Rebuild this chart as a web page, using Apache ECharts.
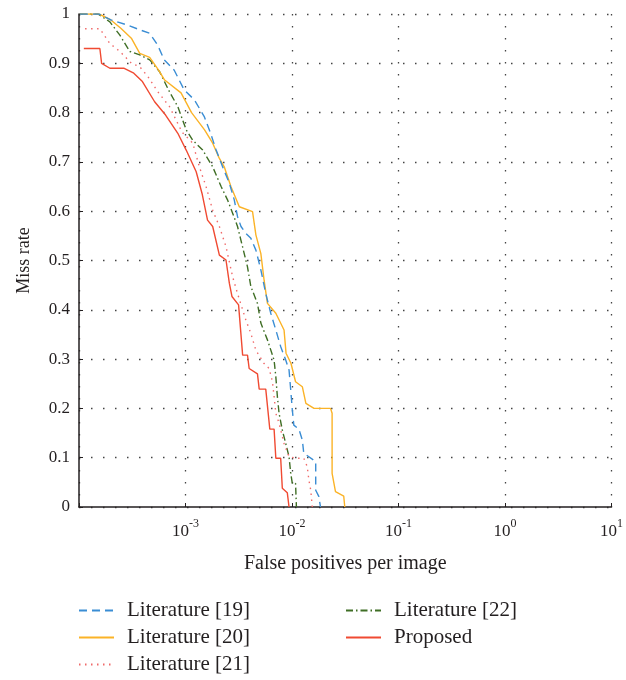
<!DOCTYPE html>
<html>
<head>
<meta charset="utf-8">
<script src="https://cdn.jsdelivr.net/npm/echarts@6/dist/echarts.min.js"></script>
<style>html,body{margin:0;padding:0;background:#fff;}#c{width:626px;height:680px;}</style>
</head>
<body>
<div id="c"></div>
<script>
var seriesNames = ['Literature [19]', 'Literature [20]', 'Literature [21]', 'Literature [22]', 'Proposed'];
var xTickExponents = [-4, -3, -2, -1, 0, 1];
var yTickLabels = ['0', '0.1', '0.2', '0.3', '0.4', '0.5', '0.6', '0.7', '0.8', '0.9', '1'];

var lit19Fppi = [1.02e-4, 1.54e-4, 1.99e-4, 2.81e-4, 3.72e-4, 4.61e-4, 5.47e-4, 6.32e-4, 7.84e-4, 9.72e-4, 1.21e-3, 1.50e-3, 1.72e-3, 1.94e-3, 2.23e-3, 2.58e-3, 2.87e-3, 3.08e-3, 3.32e-3, 3.69e-3, 4.11e-3, 4.58e-3, 5.10e-3, 5.67e-3, 6.32e-3, 7.05e-3, 7.84e-3, 8.73e-3, 9.38e-3, 9.73e-3, 1.007e-2, 1.04e-2, 1.16e-2, 1.25e-2, 1.29e-2, 1.44e-2, 1.67e-2, 1.67e-2, 1.79e-2, 1.85e-2];
var lit19Miss = [1.0, 1.0, 0.988, 0.978, 0.968, 0.961, 0.937, 0.907, 0.886, 0.846, 0.826, 0.792, 0.758, 0.724, 0.69, 0.657, 0.623, 0.589, 0.569, 0.555, 0.545, 0.521, 0.481, 0.433, 0.393, 0.359, 0.325, 0.298, 0.278, 0.237, 0.197, 0.166, 0.158, 0.136, 0.109, 0.102, 0.092, 0.034, 0.021, 0.0];

var lit20Fppi = [1.02e-4, 1.54e-4, 1.99e-4, 2.47e-4, 3.10e-4, 3.72e-4, 4.61e-4, 5.59e-4, 6.37e-4, 9.08e-4, 1.14e-3, 1.51e-3, 1.80e-3, 2.08e-3, 2.31e-3, 2.67e-3, 3.20e-3, 4.26e-3, 4.58e-3, 5.10e-3, 5.47e-3, 5.88e-3, 7.05e-3, 8.42e-3, 8.79e-3, 9.79e-3, 1.08e-2, 1.25e-2, 1.35e-2, 1.61e-2, 2.30e-2, 2.38e-2, 2.38e-2, 2.56e-2, 3.06e-2, 3.13e-2];
var lit20Miss = [1.0, 1.0, 0.988, 0.971, 0.951, 0.92, 0.912, 0.886, 0.866, 0.84, 0.8, 0.765, 0.738, 0.707, 0.69, 0.65, 0.609, 0.599, 0.552, 0.514, 0.46, 0.413, 0.393, 0.359, 0.312, 0.291, 0.254, 0.244, 0.21, 0.2, 0.2, 0.19, 0.068, 0.031, 0.022, 0.0];

var lit21Fppi = [1.14e-4, 1.57e-4, 1.95e-4, 2.42e-4, 3.11e-4, 3.72e-4, 4.44e-4, 5.51e-4, 7.08e-4, 9.3e-4, 1.17e-3, 1.35e-3, 1.56e-3, 1.80e-3, 2.08e-3, 2.40e-3, 2.77e-3, 3.08e-3, 3.69e-3, 4.11e-3, 4.58e-3, 5.47e-3, 6.10e-3, 6.55e-3, 6.79e-3, 7.05e-3, 7.56e-3, 8.42e-3, 9.38e-3, 1.08e-2, 1.29e-2, 1.39e-2, 1.44e-2, 1.50e-2, 1.55e-2];
var lit21Miss = [0.97, 0.97, 0.94, 0.924, 0.90, 0.893, 0.873, 0.842, 0.812, 0.76, 0.738, 0.69, 0.65, 0.602, 0.569, 0.528, 0.467, 0.433, 0.379, 0.352, 0.318, 0.291, 0.281, 0.254, 0.224, 0.19, 0.17, 0.129, 0.102, 0.099, 0.099, 0.082, 0.055, 0.034, 0.0];

var lit22Fppi = [1.02e-4, 1.51e-4, 1.95e-4, 2.42e-4, 3.0e-4, 3.72e-4, 4.61e-4, 5.71e-4, 7.08e-4, 8.47e-4, 1.015e-3, 1.17e-3, 1.45e-3, 1.80e-3, 2.16e-3, 2.48e-3, 2.77e-3, 3.08e-3, 3.43e-3, 3.82e-3, 4.11e-3, 4.74e-3, 5.10e-3, 5.88e-3, 6.79e-3, 7.05e-3, 7.29e-3, 7.56e-3, 8.11e-3, 8.73e-3, 9.38e-3, 9.73e-3, 1.007e-2, 1.08e-2, 1.10e-2];
var lit22Miss = [1.0, 1.0, 0.984, 0.957, 0.924, 0.917, 0.907, 0.883, 0.842, 0.812, 0.765, 0.744, 0.724, 0.69, 0.65, 0.623, 0.596, 0.569, 0.528, 0.487, 0.447, 0.413, 0.373, 0.339, 0.298, 0.264, 0.224, 0.19, 0.156, 0.129, 0.102, 0.068, 0.048, 0.048, 0.0];

var propFppi = [1.11e-4, 1.57e-4, 1.63e-4, 1.95e-4, 2.63e-4, 3.27e-4, 3.94e-4, 5.13e-4, 6.5e-4, 8.47e-4, 1.015e-3, 1.26e-3, 1.43e-3, 1.61e-3, 1.80e-3, 2.08e-3, 2.40e-3, 2.58e-3, 2.73e-3, 3.15e-3, 3.44e-3, 3.82e-3, 3.96e-3, 4.74e-3, 4.92e-3, 5.67e-3, 6.19e-3, 6.79e-3, 7.05e-3, 7.83e-3, 8.11e-3, 9.03e-3, 9.38e-3];
var propMiss = [0.93, 0.93, 0.90, 0.89, 0.89, 0.88, 0.863, 0.822, 0.795, 0.758, 0.724, 0.68, 0.636, 0.582, 0.569, 0.511, 0.501, 0.454, 0.427, 0.41, 0.308, 0.308, 0.281, 0.27, 0.239, 0.239, 0.158, 0.158, 0.099, 0.099, 0.038, 0.029, 0.0];

function zip(a, b) { return a.map(function (v, i) { return [v, b[i]]; }); }

var FONT = '"Liberation Serif", "DejaVu Serif", serif';
var styles = [
  { color: '#3a8dd4', type: [8, 5] },
  { color: '#fbb327', type: 'solid' },
  { color: '#f06a6a', type: [1.5, 4.5] },
  { color: '#3f6e25', type: [7, 3, 1.5, 3] },
  { color: '#f04a32', type: 'solid' }
];
var allData = [zip(lit19Fppi, lit19Miss), zip(lit20Fppi, lit20Miss), zip(lit21Fppi, lit21Miss), zip(lit22Fppi, lit22Miss), zip(propFppi, propMiss)];

var series = seriesNames.map(function (n, i) {
  return {
    name: n, type: 'line', data: allData[i], symbol: 'none', showSymbol: false,
    lineStyle: { color: styles[i].color, type: styles[i].type, width: 1.4 },
    itemStyle: { color: styles[i].color },
    animation: false, z: 10 - i
  };
});

var legendCommon = {
  top: 600, orient: 'vertical', itemGap: 6, itemWidth: 35, itemHeight: 21, padding: 0,
  itemStyle: { color: 'rgba(0,0,0,0)', borderWidth: 0, borderColor: 'rgba(0,0,0,0)' },
  textStyle: { fontFamily: FONT, fontSize: 21, color: '#231f20', padding: [0, 0, 0, 8] }
};

var chart = echarts.init(document.getElementById('c'), null, { renderer: 'canvas' });
chart.setOption({
  backgroundColor: '#fff',
  animation: false,
  grid: { left: 79, right: 14, top: 14, bottom: 173, containLabel: false },
  xAxis: {
    type: 'log', logBase: 10, min: 1e-4, max: 10,
    name: 'False positives per image', nameLocation: 'middle', nameGap: 47,
    nameTextStyle: { fontFamily: FONT, fontSize: 20, color: '#231f20' },
    axisLine: { show: true, lineStyle: { color: '#231f20', width: 1.5 } },
    axisTick: { show: true, inside: true, length: 4, lineStyle: { color: '#231f20' } },
    minorTick: { show: false },
    splitLine: { show: true, lineStyle: { color: '#444', type: [1.5, 10.5], width: 1.3 } },
    axisLabel: {
      margin: 11,
      formatter: function (v) {
        var e = Math.round(Math.log10(v));
        if (e <= xTickExponents[0]) return '';
        return '{b|10}{s|' + e + '}';
      },
      rich: {
        b: { fontFamily: FONT, fontSize: 17, color: '#231f20', verticalAlign: 'bottom', lineHeight: 22 },
        s: { fontFamily: FONT, fontSize: 12, color: '#231f20', verticalAlign: 'top', lineHeight: 22, padding: [0, 0, 12, 0] }
      }
    }
  },
  yAxis: {
    type: 'value', min: 0, max: 1, interval: 0.1,
    name: 'Miss rate', nameLocation: 'middle', nameGap: 46,
    nameTextStyle: { fontFamily: FONT, fontSize: 18, color: '#231f20' },
    axisLine: { show: true, lineStyle: { color: '#231f20', width: 1.5 } },
    axisTick: { show: true, inside: true, length: 4, lineStyle: { color: '#231f20' } },
    splitLine: { show: true, lineStyle: { color: '#444', type: [1.5, 10.5], width: 1.3 } },
    axisLabel: {
      margin: 9, fontFamily: FONT, fontSize: 17, color: '#231f20',
      formatter: function (v) { return yTickLabels[Math.round(v * 10)]; }
    }
  },
  legend: [
    Object.assign({ left: 78, data: seriesNames.slice(0, 3) }, legendCommon),
    Object.assign({ left: 345, data: seriesNames.slice(3, 5) }, legendCommon)
  ],
  series: series
});
</script>
</body>
</html>
